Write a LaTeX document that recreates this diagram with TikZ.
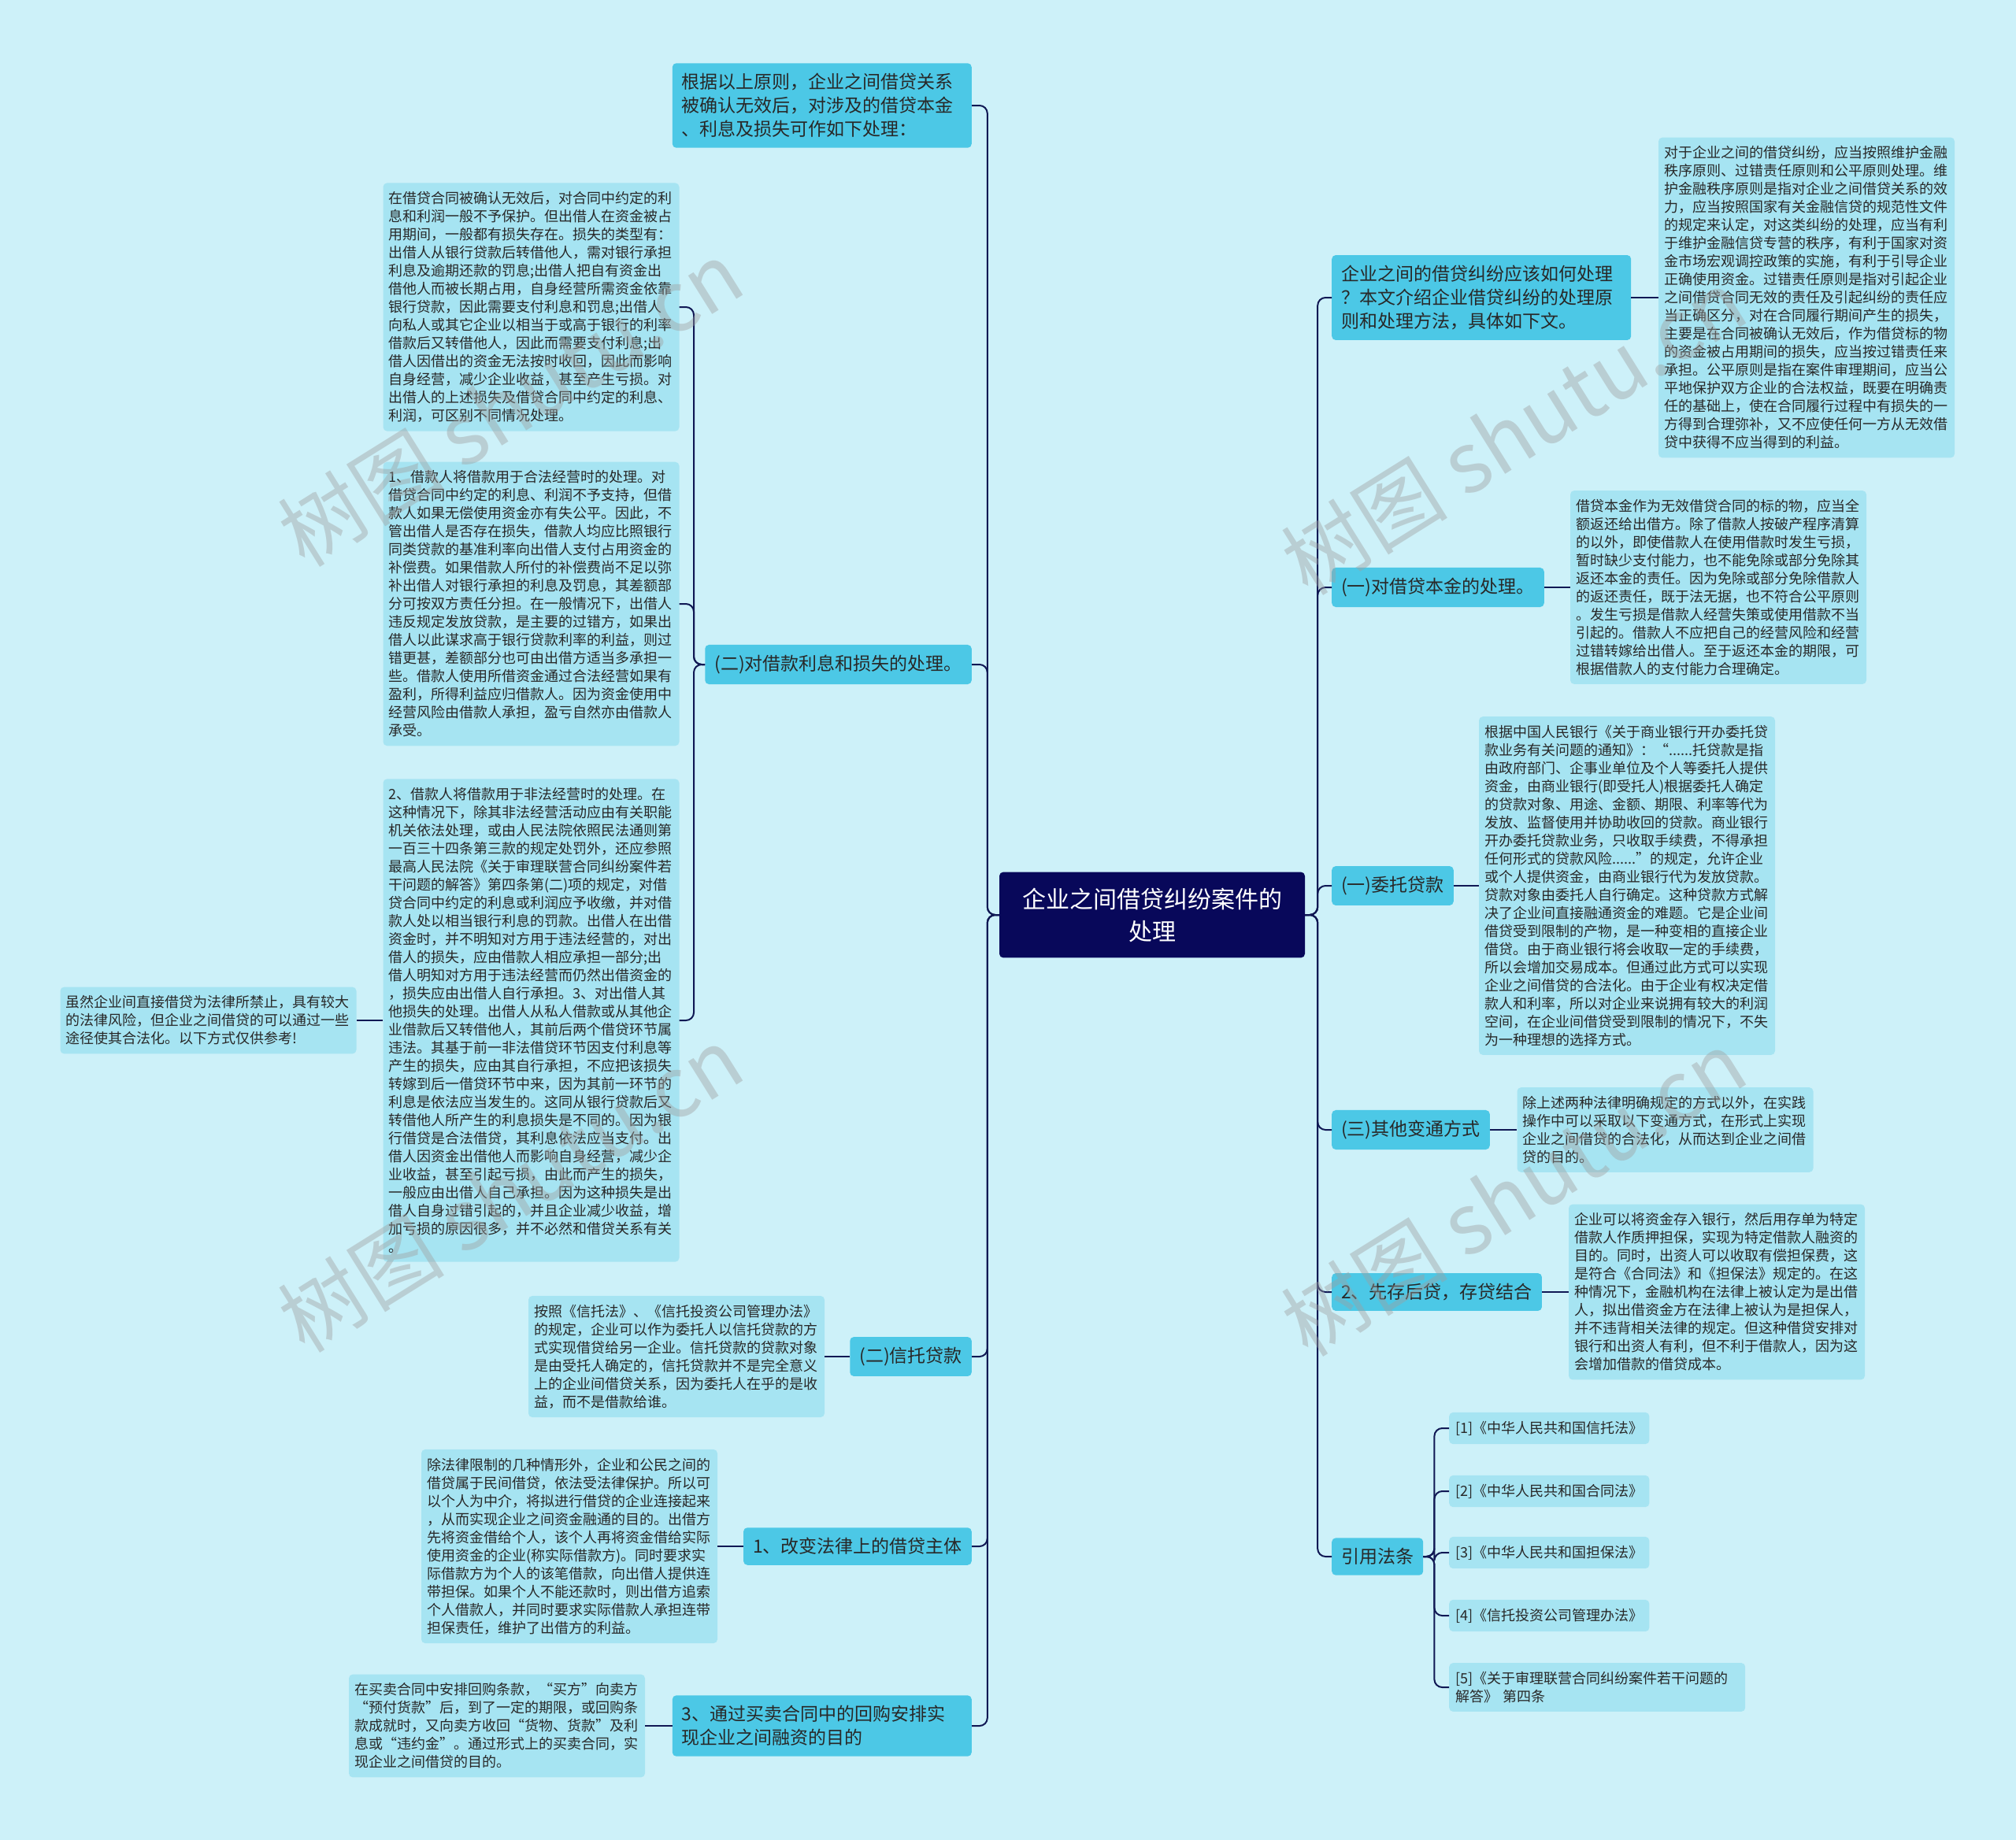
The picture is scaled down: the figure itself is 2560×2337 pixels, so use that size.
\documentclass[tikz,border=0pt]{standalone}
\usepackage{fontspec}
\setmainfont{Noto Sans CJK SC}
\newfontfamily\cjk{Noto Sans CJK SC}
\definecolor{bgcol}{RGB}{205,241,249}
\definecolor{leafcol}{RGB}{166,228,242}
\definecolor{brcol}{RGB}{76,200,230}
\definecolor{rootcol}{RGB}{8,8,90}
\definecolor{linecol}{RGB}{16,24,84}
\definecolor{txtcol}{RGB}{40,40,40}
\tikzset{
  leaf/.style={fill=leafcol,rounded corners=5pt,text=txtcol,font=\cjk\fontsize{18}{23}\selectfont,
    align=left,text width=362pt,inner xsep=7pt,inner ysep=11pt},
  refbox/.style={fill=leafcol,rounded corners=5pt,text=txtcol,font=\cjk\fontsize{18}{23}\selectfont,
    align=left,inner xsep=8pt,inner ysep=11pt,anchor=west},
  branch/.style={fill=brcol,rounded corners=5pt,text=txtcol,font=\cjk\fontsize{23}{30}\selectfont,
    align=left,inner xsep=12pt,inner ysep=13pt},
  rootbox/.style={fill=rootcol,rounded corners=5pt,text=white,font=\cjk\fontsize{30}{41}\selectfont,
    align=center,text width=350pt,inner xsep=19pt,inner ysep=20pt},
  link/.style={draw=linecol,line width=2pt,rounded corners=10pt},
  wmtext/.style={text=gray!75,opacity=0.42,font=\cjk\fontsize{106}{106}\selectfont,rotate=32}
}
\begin{document}
\begin{tikzpicture}[x=1pt,y=-1pt]
\fill[bgcol] (0,0) rectangle (2560,2337);
\useasboundingbox (0,0) rectangle (2560,2337);

\node[rootbox] (root) at (1463,1162) {企业之间借贷纠纷案件的\\处理};

\node[branch,anchor=east,text width=356pt] (l1) at (1234,134) {根据以上原则，企业之间借贷关系\\被确认无效后，对涉及的借贷本金\\、利息及损失可作如下处理：};
\node[branch,anchor=east] (l2) at (1234,844) {(二)对借款利息和损失的处理。};
\node[branch,anchor=east] (l3) at (1234,1723) {(二)信托贷款};
\node[branch,anchor=east] (l4) at (1234,1964) {1、改变法律上的借贷主体};
\node[branch,anchor=east,text width=356pt] (l5) at (1234,2192) {3、通过买卖合同中的回购安排实\\现企业之间融资的目的};

\node[branch,anchor=west,text width=356pt] (r1) at (1691,378) {企业之间的借贷纠纷应该如何处理\\？本文介绍企业借贷纠纷的处理原\\则和处理方法，具体如下文。};
\node[branch,anchor=west] (r2) at (1691,746) {(一)对借贷本金的处理。};
\node[branch,anchor=west] (r3) at (1691,1125) {(一)委托贷款};
\node[branch,anchor=west] (r4) at (1691,1435) {(三)其他变通方式};
\node[branch,anchor=west] (r5) at (1691,1641) {2、先存后贷，存贷结合};
\node[branch,anchor=west] (r6) at (1691,1977) {引用法条};

\node[leaf] (ll1) at (674.5,390) {在借贷合同被确认无效后，对合同中约定的利\\息和利润一般不予保护。但出借人在资金被占\\用期间，一般都有损失存在。损失的类型有：\\出借人从银行贷款后转借他人，需对银行承担\\利息及逾期还款的罚息;出借人把自有资金出\\借他人而被长期占用，自身经营所需资金依靠\\银行贷款，因此需要支付利息和罚息;出借人\\向私人或其它企业以相当于或高于银行的利率\\借款后又转借他人，因此而需要支付利息;出\\借人因借出的资金无法按时收回，因此而影响\\自身经营，减少企业收益，甚至产生亏损。对\\出借人的上述损失及借贷合同中约定的利息、\\利润，可区别不同情况处理。};
\node[leaf] (ll2) at (674.5,767) {1、借款人将借款用于合法经营时的处理。对\\借贷合同中约定的利息、利润不予支持，但借\\款人如果无偿使用资金亦有失公平。因此，不\\管出借人是否存在损失，借款人均应比照银行\\同类贷款的基准利率向出借人支付占用资金的\\补偿费。如果借款人所付的补偿费尚不足以弥\\补出借人对银行承担的利息及罚息，其差额部\\分可按双方责任分担。在一般情况下，出借人\\违反规定发放贷款，是主要的过错方，如果出\\借人以此谋求高于银行贷款利率的利益，则过\\错更甚，差额部分也可由出借方适当多承担一\\些。借款人使用所借资金通过合法经营如果有\\盈利，所得利益应归借款人。因为资金使用中\\经营风险由借款人承担，盈亏自然亦由借款人\\承受。};
\node[leaf] (ll3) at (674.5,1296) {2、借款人将借款用于非法经营时的处理。在\\这种情况下，除其非法经营活动应由有关职能\\机关依法处理，或由人民法院依照民法通则第\\一百三十四条第三款的规定处罚外，还应参照\\最高人民法院《关于审理联营合同纠纷案件若\\干问题的解答》第四条第(二)项的规定，对借\\贷合同中约定的利息或利润应予收缴，并对借\\款人处以相当银行利息的罚款。出借人在出借\\资金时，并不明知对方用于违法经营的，对出\\借人的损失，应由借款人相应承担一部分;出\\借人明知对方用于违法经营而仍然出借资金的\\，损失应由出借人自行承担。3、对出借人其\\他损失的处理。出借人从私人借款或从其他企\\业借款后又转借他人，其前后两个借贷环节属\\违法。其基于前一非法借贷环节因支付利息等\\产生的损失，应由其自行承担，不应把该损失\\转嫁到后一借贷环节中来，因为其前一环节的\\利息是依法应当发生的。这同从银行贷款后又\\转借他人所产生的利息损失是不同的。因为银\\行借贷是合法借贷，其利息依法应当支付。出\\借人因资金出借他人而影响自身经营，减少企\\业收益，甚至引起亏损，由此而产生的损失，\\一般应由出借人自己承担。因为这种损失是出\\借人自身过错引起的，并且企业减少收益，增\\加亏损的原因很多，并不必然和借贷关系有关\\。};
\node[leaf] (ll4) at (264.5,1296) {虽然企业间直接借贷为法律所禁止，具有较大\\的法律风险，但企业之间借贷的可以通过一些\\途径使其合法化。以下方式仅供参考!};
\node[leaf] (ll5) at (859,1723) {按照《信托法》、《信托投资公司管理办法》\\的规定，企业可以作为委托人以信托贷款的方\\式实现借贷给另一企业。信托贷款的贷款对象\\是由受托人确定的，信托贷款并不是完全意义\\上的企业间借贷关系，因为委托人在乎的是收\\益，而不是借款给谁。};
\node[leaf] (ll6) at (723,1964) {除法律限制的几种情形外，企业和公民之间的\\借贷属于民间借贷，依法受法律保护。所以可\\以个人为中介，将拟进行借贷的企业连接起来\\，从而实现企业之间资金融通的目的。出借方\\先将资金借给个人，该个人再将资金借给实际\\使用资金的企业(称实际借款方)。同时要求实\\际借款方为个人的该笔借款，向出借人提供连\\带担保。如果个人不能还款时，则出借方追索\\个人借款人，并同时要求实际借款人承担连带\\担保责任，维护了出借方的利益。};
\node[leaf] (ll7) at (631,2192) {在买卖合同中安排回购条款，“买方”向卖方\\“预付货款”后，到了一定的期限，或回购条\\款成就时，又向卖方收回“货物、货款”及利\\息或“违约金”。通过形式上的买卖合同，实\\现企业之间借贷的目的。};

\node[leaf] (rl1) at (2294,378) {对于企业之间的借贷纠纷，应当按照维护金融\\秩序原则、过错责任原则和公平原则处理。维\\护金融秩序原则是指对企业之间借贷关系的效\\力，应当按照国家有关金融信贷的规范性文件\\的规定来认定，对这类纠纷的处理，应当有利\\于维护金融信贷专营的秩序，有利于国家对资\\金市场宏观调控政策的实施，有利于引导企业\\正确使用资金。过错责任原则是指对引起企业\\之间借贷合同无效的责任及引起纠纷的责任应\\当正确区分，对在合同履行期间产生的损失，\\主要是在合同被确认无效后，作为借贷标的物\\的资金被占用期间的损失，应当按过错责任来\\承担。公平原则是指在案件审理期间，应当公\\平地保护双方企业的合法权益，既要在明确责\\任的基础上，使在合同履行过程中有损失的一\\方得到合理弥补，又不应使任何一方从无效借\\贷中获得不应当得到的利益。};
\node[leaf] (rl2) at (2182,746) {借贷本金作为无效借贷合同的标的物，应当全\\额返还给出借方。除了借款人按破产程序清算\\的以外，即使借款人在使用借款时发生亏损，\\暂时缺少支付能力，也不能免除或部分免除其\\返还本金的责任。因为免除或部分免除借款人\\的返还责任，既于法无据，也不符合公平原则\\。发生亏损是借款人经营失策或使用借款不当\\引起的。借款人不应把自己的经营风险和经营\\过错转嫁给出借人。至于返还本金的期限，可\\根据借款人的支付能力合理确定。};
\node[leaf] (rl3) at (2066,1125) {根据中国人民银行《关于商业银行开办委托贷\\款业务有关问题的通知》：“......托贷款是指\\由政府部门、企事业单位及个人等委托人提供\\资金，由商业银行(即受托人)根据委托人确定\\的贷款对象、用途、金额、期限、利率等代为\\发放、监督使用并协助收回的贷款。商业银行\\开办委托贷款业务，只收取手续费，不得承担\\任何形式的贷款风险......”的规定，允许企业\\或个人提供资金，由商业银行代为发放贷款。\\贷款对象由委托人自行确定。这种贷款方式解\\决了企业间直接融通资金的难题。它是企业间\\借贷受到限制的产物，是一种变相的直接企业\\借贷。由于商业银行将会收取一定的手续费，\\所以会增加交易成本。但通过此方式可以实现\\企业之间借贷的合法化。由于企业有权决定借\\款人和利率，所以对企业来说拥有较大的利润\\空间，在企业间借贷受到限制的情况下，不失\\为一种理想的选择方式。};
\node[leaf] (rl4) at (2114.5,1435) {除上述两种法律明确规定的方式以外，在实践\\操作中可以采取以下变通方式，在形式上实现\\企业之间借贷的合法化，从而达到企业之间借\\贷的目的。};
\node[leaf] (rl5) at (2180,1641) {企业可以将资金存入银行，然后用存单为特定\\借款人作质押担保，实现为特定借款人融资的\\目的。同时，出资人可以收取有偿担保费，这\\是符合《合同法》和《担保法》规定的。在这\\种情况下，金融机构在法律上被认定为是出借\\人，拟出借资金方在法律上被认为是担保人，\\并不违背相关法律的规定。但这种借贷安排对\\银行和出资人有利，但不利于借款人，因为这\\会增加借款的借贷成本。};

\node[refbox] (ref1) at (1840,1814) {[1]《中华人民共和国信托法》};
\node[refbox] (ref2) at (1840,1894) {[2]《中华人民共和国合同法》};
\node[refbox] (ref3) at (1840,1972) {[3]《中华人民共和国担保法》};
\node[refbox] (ref4) at (1840,2052) {[4]《信托投资公司管理办法》};
\node[refbox,text width=360pt] (ref5) at (1840,2143) {[5]《关于审理联营合同纠纷案件若干问题的\\解答》 第四条};

\foreach \b in {l1,l2,l3,l4,l5}
  \draw[link] (root.west) -- ++(-15,0) |- (\b.east);
\foreach \b in {r1,r2,r3,r4,r5,r6}
  \draw[link] (root.east) -- ++(16,0) |- (\b.west);
\foreach \c in {ll1,ll2,ll3}
  \draw[link] (l2.west) -- ++(-14,0) |- (\c.east);
\draw[link] (ll3.west) -- (ll4.east);
\draw[link] (l3.west) -- (ll5.east);
\draw[link] (l4.west) -- (ll6.east);
\draw[link] (l5.west) -- (ll7.east);
\draw[link] (r1.east) -- (rl1.west);
\draw[link] (r2.east) -- (rl2.west);
\draw[link] (r3.east) -- (rl3.west);
\draw[link] (r4.east) -- (rl4.west);
\draw[link] (r5.east) -- (rl5.west);
\foreach \c in {ref1,ref2,ref3,ref4,ref5}
  \draw[link] (r6.east) -- ++(14,0) |- (\c.west);

\node[wmtext] (wm1) at (648,512) {树图 shutu.cn};
\node[wmtext] (wm2) at (648,1510) {树图 shutu.cn};
\node[wmtext] (wm3) at (1922,548) {树图 shutu.cn};
\node[wmtext] (wm4) at (1922,1515) {树图 shutu.cn};
\end{tikzpicture}
\end{document}
